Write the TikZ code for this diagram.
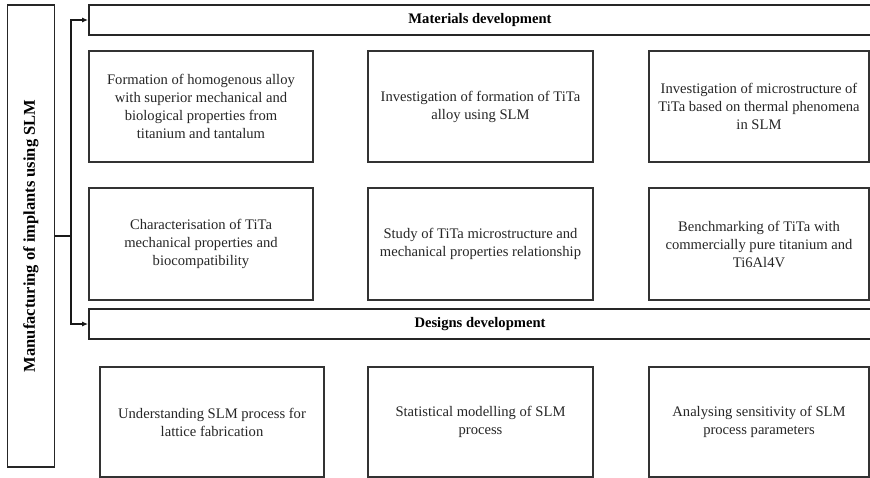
\documentclass[tikz,border=0pt]{standalone}
\usepackage{fontspec}
\setmainfont{Liberation Serif}
\usetikzlibrary{arrows.meta}
\begin{document}
\begin{tikzpicture}[x=1pt,y=-1pt,
  cbox/.style={draw=black!80, line width=1.1pt, rectangle, inner sep=0pt, align=center,
    font=\fontsize{14.6}{18}\selectfont, text=black!85},
  hbox/.style={draw=black!85, line width=1.8pt, rectangle, inner sep=0pt,
    minimum width=782, minimum height=30, font=\fontsize{14.6}{18}\selectfont\bfseries},
  conn/.style={draw=black!90, line width=1.3pt},
  arr/.style={conn, -{Latex[length=6pt,width=5pt]}}]
\useasboundingbox (0,0) rectangle (870,477);
\clip (0,0) rectangle (870,477);
\fill[white] (0,0) rectangle (870,477);
% left vertical box
\node[draw=black!85, line width=1.8pt, rectangle, rotate=90, minimum width=462, minimum height=47,
  inner sep=0pt, font=\fontsize{16.5}{19}\selectfont\bfseries] (main) at (31,236)
  {Manufacturing of implants using SLM};
% headers
\node[hbox] (mat) at (480,20) {Materials development};
\node[hbox] (des) at (480,324) {Designs development};
% row 1
\node[cbox, minimum width=224, minimum height=111] (b1) at (201,106.5)
  {Formation of homogenous alloy\\with superior mechanical and\\biological properties from\\titanium and tantalum};
\node[cbox, minimum width=225, minimum height=111] (b2) at (480.5,106.5)
  {Investigation of formation of TiTa\\alloy using SLM};
\node[cbox, minimum width=220, minimum height=111] (b3) at (759,106.5)
  {Investigation of microstructure of\\TiTa based on thermal phenomena\\in SLM};
% row 2
\node[cbox, minimum width=224, minimum height=112] (b4) at (201,244)
  {Characterisation of TiTa\\mechanical properties and\\biocompatibility};
\node[cbox, minimum width=225, minimum height=112] (b5) at (480.5,244)
  {Study of TiTa microstructure and\\mechanical properties relationship};
\node[cbox, minimum width=220, minimum height=112] (b6) at (759,244)
  {Benchmarking of TiTa with\\commercially pure titanium and\\Ti6Al4V};
% row 3 (extends past the lower edge)
\node[cbox, minimum width=224, minimum height=110] (b7) at (212,422)
  {Understanding SLM process for\\lattice fabrication};
\node[cbox, minimum width=225, minimum height=110] (b8) at (480.5,422)
  {Statistical modelling of SLM\\process};
\node[cbox, minimum width=220, minimum height=110] (b9) at (759,422)
  {Analysing sensitivity of SLM\\process parameters};
% connectors
\coordinate (j) at (71,236);
\draw[conn] (main.south) -- (j);
\draw[arr] (j) |- (mat.west);
\draw[arr] (j) |- (des.west);
\end{tikzpicture}
\end{document}
